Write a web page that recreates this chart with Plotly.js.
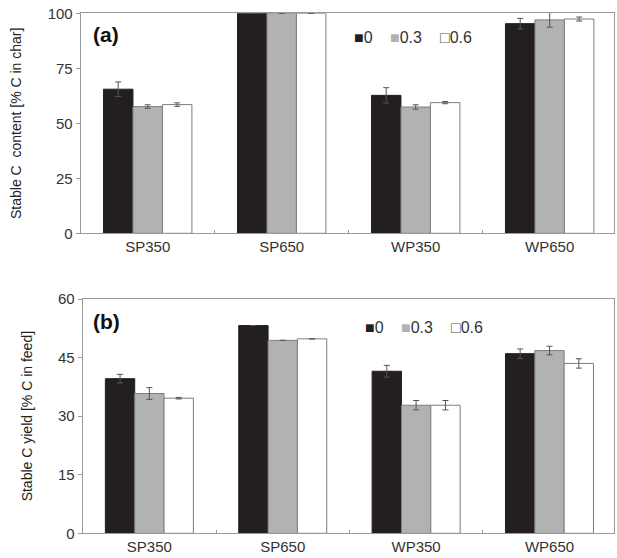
<!DOCTYPE html>
<html>
<head>
<meta charset="utf-8">
<script src="https://cdn.plot.ly/plotly-3.0.1.min.js"></script>
<style>html,body{margin:0;padding:0;background:#fff;}#chart{width:617px;height:558px;}</style>
</head>
<body>
<div id="chart"></div>
<script>
// ---- data ----
var categories = ['SP350', 'SP650', 'WP350', 'WP650'];
var seriesNames = ['0', '0.3', '0.6'];

// (a) Stable C content [% C in char]
var contentA0 = [65.5, 100, 62.7, 95.3];
var contentA03 = [57.6, 100, 57.4, 97.0];
var contentA06 = [58.5, 100, 59.4, 97.4];
var contentErr0 = [3.3, null, 3.5, 2.4];
var contentErr03 = [0.8, null, 1.0, 3.3];
var contentErr06 = [0.8, null, 0.5, 0.9];

// (b) Stable C yield [% C in feed]
var yield0 = [39.6, 53.2, 41.5, 46.0];
var yield03 = [35.8, 49.4, 32.8, 46.8];
var yield06 = [34.6, 49.8, 32.8, 43.5];
var yieldErr0 = [1.1, null, 1.5, 1.2];
var yieldErr03 = [1.5, null, 1.2, 1.1];
var yieldErr06 = [0.2, null, 1.2, 1.2];

var yTicksA = [0, 25, 50, 75, 100];
var yTicksB = [0, 15, 30, 45, 60];

// ---- styles ----
var fills = ['#231f20', '#b1b2b4', '#ffffff'];
var edge = '#7d7d7d';
var W = 617, H = 558;
var font = 'Liberation Sans, Arial, sans-serif';

function mk(y, err, i, xa, ya) {
  return {
    type: 'bar', x: categories, y: y, name: seriesNames[i],
    xaxis: xa, yaxis: ya, showlegend: false,
    marker: {color: fills[i], line: {color: i === 0 ? '#231f20' : edge, width: 1}},
    error_y: {type: 'data', array: err, visible: true, color: '#555', thickness: 1, width: 3},
    hoverinfo: 'x+y'
  };
}

var data = [
  mk(contentA0, contentErr0, 0, 'x', 'y'),
  mk(contentA03, contentErr03, 1, 'x', 'y'),
  mk(contentA06, contentErr06, 2, 'x', 'y'),
  mk(yield0, yieldErr0, 0, 'x2', 'y2'),
  mk(yield03, yieldErr03, 1, 'x2', 'y2'),
  mk(yield06, yieldErr06, 2, 'x2', 'y2')
];

function px(x) { return x / W; }
function py(y) { return 1 - y / H; }

var axisLine = '#9a9a9a';
function xAxis(d, anchor) {
  return {
    domain: d, anchor: anchor, type: 'category', range: [-0.5, 3.48],
    showline: true, linecolor: axisLine, linewidth: 1, mirror: true,
    ticks: 'inside', tickson: 'boundaries', ticklen: 3, tickcolor: axisLine,
    showgrid: false, zeroline: false,
    tickfont: {family: font, size: 15, color: '#333'}
  };
}
function yAxis(d, anchor, range, ticks, title) {
  return {
    domain: d, anchor: anchor, range: range, tickvals: ticks,
    showline: true, linecolor: axisLine, linewidth: 1, mirror: true,
    ticks: 'outside', ticklen: 4, tickcolor: axisLine,
    showgrid: false, zeroline: false,
    tickfont: {family: font, size: 15, color: '#333'},
    title: {text: title, font: {family: font, size: 14, color: '#222'}, standoff: 22}
  };
}

// legend drawn as text items (square glyph + series name)
var legendSquares = ['<span style="color:' + fills[0] + '">■</span>',
                     '<span style="color:' + fills[1] + '">■</span>',
                     '<span style="color:#555">□</span>'];
var legendOffsets = [0, 36, 86];
function legendItems(x0, yc) {
  var out = [];
  for (var i = 0; i < seriesNames.length; i++) {
    out.push({text: legendSquares[i] + seriesNames[i], xref: 'paper', yref: 'paper',
      x: px(x0 + legendOffsets[i]), y: py(yc), xanchor: 'left', yanchor: 'middle',
      showarrow: false, font: {family: font, size: 16, color: '#333'}});
  }
  return out;
}

var annotations = [
  {text: '<b>(a)</b>', xref: 'paper', yref: 'paper', x: px(91), y: py(35), xanchor: 'left', yanchor: 'middle', showarrow: false, font: {family: font, size: 21, color: '#111'}},
  {text: '<b>(b)</b>', xref: 'paper', yref: 'paper', x: px(91), y: py(321), xanchor: 'left', yanchor: 'middle', showarrow: false, font: {family: font, size: 21, color: '#111'}}
].concat(legendItems(352, 38)).concat(legendItems(363, 327));

var layout = {
  width: W, height: H,
  margin: {l: 0, r: 0, t: 0, b: 0},
  paper_bgcolor: '#fff', plot_bgcolor: '#fff',
  barmode: 'group', bargap: 0.34, bargroupgap: 0,
  showlegend: false,
  font: {family: font},
  xaxis: xAxis([px(80.7), px(614)], 'y'),
  yaxis: yAxis([py(233.3), py(13.3)], 'x', [0, 100], yTicksA, 'Stable C  content [% C in char]'),
  xaxis2: xAxis([px(82.7), px(613.5)], 'y2'),
  yaxis2: yAxis([py(533.3), py(299)], 'x2', [0, 60], yTicksB, 'Stable C yield [% C in feed]'),
  annotations: annotations
};

Plotly.newPlot('chart', data, layout, {displayModeBar: false, staticPlot: true});
</script>
</body>
</html>
